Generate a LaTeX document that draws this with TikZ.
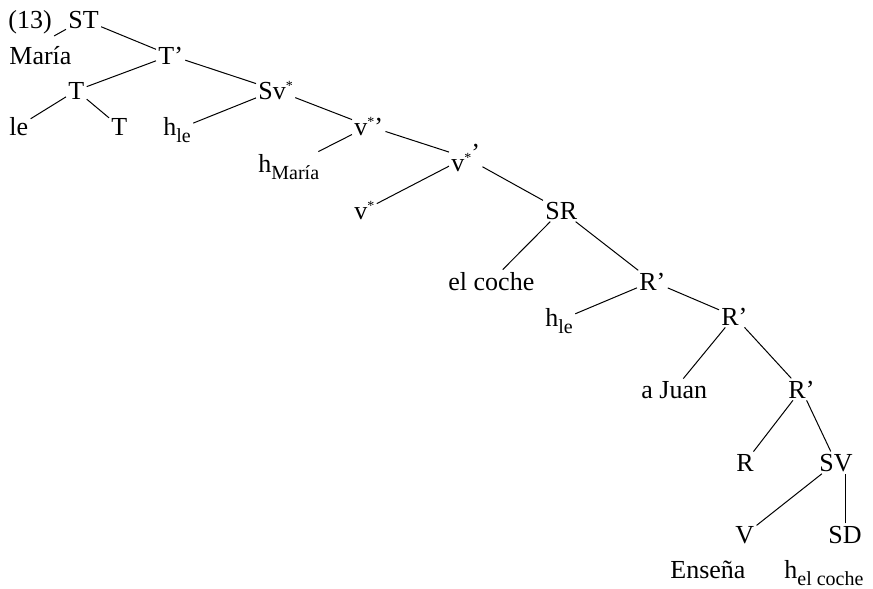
\documentclass[tikz,border=0pt]{standalone}
\usepackage{fontspec}
\setmainfont{Liberation Serif}
\usepackage{tikz}
\tikzset{cat/.style={anchor=base west, inner sep=1pt}}
\tikzset{branch/.style={line width=0.5pt}}
\newcommand{\trace}[1]{h\raisebox{-3.5pt}{\fontsize{10}{12}\selectfont #1}}
\newcommand{\vst}{v\raisebox{4.5pt}{\fontsize{7}{8}\selectfont *}}

\begin{document}
\begin{tikzpicture}[x=0.5pt, y=-0.5pt, font=\fontsize{13}{15}\selectfont]
      \useasboundingbox (0, 0) rectangle (873, 589);

      \node[cat] (ex) at (6, 28) {(13)};
      \node[cat] (ST) at (66, 28) {ST};
      \node[cat] (Maria) at (7, 64) {María};
      \node[cat] (Tbar) at (156, 64) {T’};
      \node[cat] (T) at (66, 99) {T};
      \node[cat] (Sv) at (256, 99) {S\vst};
      \node[cat] (le) at (7, 135) {le};
      \node[cat] (Tlow) at (109, 135) {T};
      \node[cat] (hle) at (161, 135) {\trace{le}};
      \node[cat] (vbar) at (352, 135) {\vst’};
      \node[cat] (hmaria) at (256, 172) {\trace{María}};
      \node[cat] (vbarb) at (449, 171) {\vst\raisebox{5pt}{’}};
      \node[cat] (vstar) at (352, 219) {\vst};
      \node[cat] (SR) at (543, 219) {SR};
      \node[cat] (coche) at (446, 290) {el coche};
      \node[cat] (Rbar) at (637, 290) {R’};
      \node[cat] (hleb) at (543, 326) {\trace{le}};
      \node[cat] (Rbarb) at (719, 325) {R’};
      \node[cat] (juan) at (639, 398) {a Juan};
      \node[cat] (Rbarc) at (786, 398) {R’};
      \node[cat] (R) at (734, 471) {R};
      \node[cat] (SV) at (817, 471) {SV};
      \node[cat] (V) at (733, 543) {V};
      \node[cat] (SD) at (826, 543) {SD};
      \node[cat] (ensena) at (668, 578) {Enseña};
      \node[cat] (hcoche) at (782, 578) {\trace{el coche}};

      \draw[branch] (ST) -- (ex.south east);
      \draw[branch] (ST) -- (Tbar);
      \draw[branch] (Tbar) -- (T);
      \draw[branch] (Tbar) -- (Sv);
      \draw[branch] (T) -- (le);
      \draw[branch] (T) -- (Tlow);
      \draw[branch] (Sv) -- (hle);
      \draw[branch] (Sv) -- (vbar);
      \draw[branch] (vbar) -- (hmaria);
      \draw[branch] (vbar) -- (vbarb);
      \draw[branch] (vbarb) -- (vstar);
      \draw[branch] (vbarb) -- (SR);
      \draw[branch] (SR) -- (coche);
      \draw[branch] (SR) -- (Rbar);
      \draw[branch] (Rbar) -- (hleb);
      \draw[branch] (Rbar) -- (Rbarb);
      \draw[branch] (Rbarb) -- (juan);
      \draw[branch] (Rbarb) -- (Rbarc);
      \draw[branch] (Rbarc) -- (R);
      \draw[branch] (Rbarc) -- (SV);
      \draw[branch] (SV) -- (V);
      \draw[branch] (SD.north) -- (SD.north |- SV.south);

    \end{tikzpicture}
\end{document}
